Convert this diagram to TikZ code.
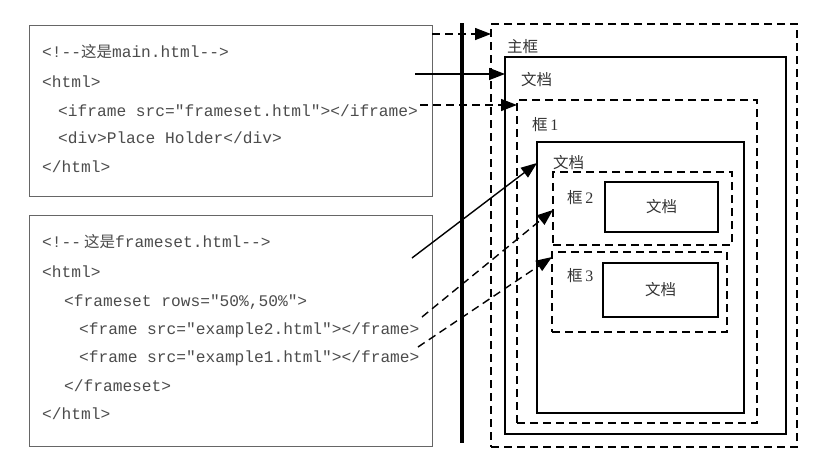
\documentclass[tikz,border=0pt]{standalone}
\usepackage{fontspec}
\setmainfont{Liberation Serif}
\setmonofont{Liberation Mono}
\newfontfamily\cjk{Noto Sans CJK SC}
\usetikzlibrary{arrows.meta}
\newcommand{\codefnt}{\fontsize{16.2}{20}\selectfont\ttfamily}
\newcommand{\labfnt}{\fontsize{16}{20}\selectfont}
\newcommand{\cj}[1]{{\cjk\fontsize{15.5}{18}\selectfont #1}}
\begin{document}
\begin{tikzpicture}[x=1pt,y=-1pt,
  codebox/.style={draw=black!60, line width=0.8pt, anchor=north west, inner sep=0pt, outer sep=0pt},
  solidbox/.style={draw=black, line width=1.5pt, anchor=north west, inner sep=0pt, outer sep=0pt},
  dashbox/.style={solidbox, dash pattern=on 8pt off 5pt},
  codeline/.style={anchor=west, inner sep=0pt, text=black!70, font=\codefnt},
  lab/.style={anchor=west, inner sep=0pt, text=black!80, font=\labfnt},
  conn/.style={line width=1.4pt, -{Triangle[length=16pt,width=12pt]}},
  dconn/.style={conn, dash pattern=on 8pt off 5pt},
  divider/.style={line width=3.8pt},
]
\useasboundingbox[fill=white] (0,0) rectangle (828,464);

% code boxes
\node[codebox, minimum width=403pt, minimum height=171pt] (code1) at (29,25) {};
\node[codebox, minimum width=403pt, minimum height=231pt] (code2) at (29,215) {};

\node[codeline] (c1l1) at (42,52) {<!-{}-\cj{这是}main.html-{}->};
\node[codeline] (c1l2) at (42,82) {<html>};
\node[codeline] (c1l3) at (58,111) {<iframe src="frameset.html"></iframe>};
\node[codeline] (c1l4) at (58,138) {<div>Place Holder</div>};
\node[codeline] (c1l5) at (42,167) {</html>};

\node[codeline] (c2l1) at (42,242) {<!-{}-\hspace{3pt}\cj{这是}frameset.html-{}->};
\node[codeline] (c2l2) at (42,272) {<html>};
\node[codeline] (c2l3) at (64,302) {<frameset rows="50\%,50\%">};
\node[codeline] (c2l4) at (79,330) {<frame src="example2.html"></frame>};
\node[codeline] (c2l5) at (79,358) {<frame src="example1.html"></frame>};
\node[codeline] (c2l6) at (64,386) {</frameset>};
\node[codeline] (c2l7) at (42,414) {</html>};

% divider
\coordinate (divtop) at (462,23);
\coordinate (divbot) at (462,443);
\draw[divider] (divtop) -- (divbot);

% right nested boxes
\node[dashbox, minimum width=306pt, minimum height=423pt] (mainframe) at (491,24) {};
\node[solidbox, minimum width=281pt, minimum height=377pt] (maindoc) at (505,57) {};
\node[dashbox, minimum width=240pt, minimum height=323pt] (frame1) at (517,100) {};
\node[solidbox, minimum width=207pt, minimum height=271pt] (doc1) at (537,142) {};
\node[dashbox, minimum width=179pt, minimum height=73pt] (frame2) at (553,172) {};
\node[solidbox, minimum width=113pt, minimum height=50pt, text=black!80] (doc2) at (605,182) {\cj{文档}};
\node[dashbox, minimum width=175pt, minimum height=80pt] (frame3) at (552,252) {};
\node[solidbox, minimum width=115pt, minimum height=54pt, text=black!80] (doc3) at (603,263) {\cj{文档}};

\node[lab] (lmain) at (507,47) {\cj{主框}};
\node[lab] (lmaindoc) at (521,80) {\cj{文档}};
\node[lab] (lf1) at (532,125) {\cj{框}\,1};
\node[lab] (ldoc1) at (553,163) {\cj{文档}};
\node[lab] (lf2) at (567,198) {\cj{框}\,2};
\node[lab] (lf3) at (567,276) {\cj{框}\,3};

% connectors
\coordinate (s1) at (code1.east |- 0,34);
\coordinate (s2) at (415,74);
\coordinate (s3) at (420,105);
\coordinate (s4) at (412,258);
\coordinate (s5) at (422,317);
\coordinate (s6) at (418,347);
\draw[dconn] (s1) -- (mainframe.west |- s1);
\draw[conn] (s2) -- (maindoc.west |- s2);
\draw[dconn] (s3) -- (frame1.west |- s3);
\draw[conn] (s4) -- (doc1.west |- 0,163);
\draw[dconn] (s5) -- (frame2.west |- 0,210);
\draw[dconn] (s6) -- (frame3.west |- 0,257);
\end{tikzpicture}
\end{document}
